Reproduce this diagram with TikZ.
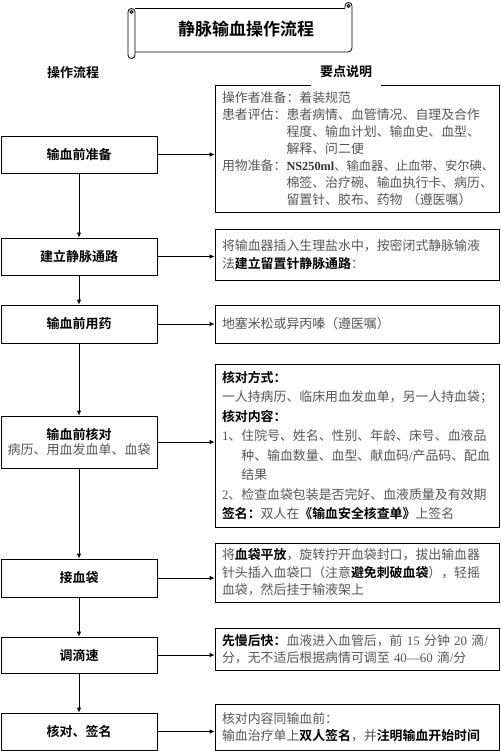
\documentclass[tikz,border=0pt]{standalone}
\usepackage{fontspec}
\setmainfont{Noto Sans CJK SC}[BoldFont={Noto Sans CJK SC Bold}]
\newfontfamily\lat{Liberation Serif}
\usepackage{xcolor}
\usetikzlibrary{positioning, arrows.meta, calc}
\definecolor{txtgray}{HTML}{555555}
\tikzset{
  stepbox/.style ={draw, line width=0.8pt, minimum width=156pt, align=center,
                   inner sep=0pt, font=\fontsize{13}{16}\selectfont\bfseries},
  notebox/.style ={draw, line width=0.8pt, minimum width=284pt, text width=270pt,
                   inner xsep=7pt, inner ysep=0pt, align=left, text=txtgray,
                   font=\fontsize{12.9}{17}\selectfont},
  head/.style    ={font=\fontsize{13}{16}\selectfont\bfseries},
  scroll/.style  ={line width=0.8pt},
  flow/.style    ={-{Latex[length=5pt,width=4.5pt]}, line width=0.8pt},
}
\newcommand{\bk}[1]{\textcolor{black}{\bfseries #1}}
\newcommand{\ind}{\hspace*{5em}}
\newcommand{\nm}[1]{{\lat #1}}

\begin{document}
\begin{tikzpicture}[x=1pt, y=1pt]
  \useasboundingbox (0,0) rectangle (500,-751);
  % title scroll
  \draw[scroll] (135,-8) -- (345,-8);
  \draw[scroll] (135,-52) -- (348,-52) arc[start angle=-90, end angle=0, radius=4]
        -- (352,-6) arc[start angle=0, end angle=180, radius=3.5] -- (345,-8);
  \draw[scroll] (348.5,-6) circle (1.5);
  \draw[scroll] (128,-12) -- (128,-55) arc[start angle=180, end angle=360, radius=3.5]
        -- (135,-12) arc[start angle=0, end angle=180, radius=3.5];
  \draw[scroll] (131.5,-12) circle (1.5);
  \node[font=\fontsize{17}{20}\selectfont\bfseries] (Title) at (246,-29) {静脉输血操作流程};

  % left column
  \node[stepbox, minimum height=37pt] (Prep)  at (79,-154.5) {输血前准备};
  \node[stepbox, minimum height=37pt] (Vein)  at (79,-256.5) {建立静脉通路};
  \node[stepbox, minimum height=38pt] (Drug)  at (79,-324)   {输血前用药};
  \node[stepbox, minimum height=52pt] (Check) at (79,-442)
        {输血前核对\\[-1pt]{\mdseries\color{txtgray}病历、用血发血单、血袋}};
  \node[stepbox, minimum height=38pt] (Bag)   at (79,-578)   {接血袋};
  \node[stepbox, minimum height=36pt] (Rate)  at (79,-655)   {调滴速};
  \node[stepbox, minimum height=37pt] (Sign)  at (79,-731.5) {核对、签名};

  % right column
  \node[notebox, minimum height=127pt] (PrepN) at (357,-148.5)
        {操作者准备：着装规范\\
         患者评估：患者病情、血管情况、自理及合作\\
         \ind 程度、输血计划、输血史、血型、\\
         \ind 解释、问二便\\
         用物准备：{\fontsize{12.3}{17}\selectfont{\lat\bfseries\color{black!80}NS250ml}、输血器、止血带、安尔碘、}\\
         \ind 棉签、治疗碗、输血执行卡、病历、\\
         \ind 留置针、胶布、药物 （遵医嘱）};
  \node[notebox, minimum height=51pt, font=\fontsize{12.9}{18}\selectfont] (VeinN) at (357,-254.5)
        {将输血器插入生理盐水中，按密闭式静脉输液\\
         法\bk{建立留置针静脉通路}：};
  \node[notebox, minimum height=38pt] (DrugN) at (357,-324)
        {地塞米松或异丙嗪（遵医嘱）};
  \node[notebox, minimum height=163pt, font=\fontsize{12.9}{19.5}\selectfont] (CheckN) at (357,-445.5)
        {\bk{核对方式：}\\
         一人持病历、临床用血发血单，另一人持血袋；\\
         \bk{核对内容：}\\
         \nm{1}、住院号、姓名、性别、年龄、床号、血液品\\
         \hspace*{1.5em}种、输血数量、血型、献血码\nm{/}产品码、配血\\
         \hspace*{1.5em}结果\\
         \nm{2}、检查血袋包装是否完好、血液质量及有效期\\
         \bk{签名：}双人在\bk{《输血安全核查单》}上签名};
  \node[notebox, minimum height=59pt, font=\fontsize{12.9}{17.5}\selectfont] (BagN) at (357,-572.5)
        {将\bk{血袋平放}，旋转拧开血袋封口，拔出输血器\\
         针头插入血袋口（注意\bk{避免刺破血袋}），轻摇\\
         血袋，然后挂于输液架上};
  \node[notebox, minimum height=42pt, font=\fontsize{12.9}{16.5}\selectfont] (RateN) at (357,-649)
        {\bk{先慢后快：}血液进入血管后，前~\nm{15}~分钟~\nm{20}~滴\nm{/}\\
         分，无不适后根据病情可调至~\nm{40—60}~滴\nm{/}分};
  \node[notebox, minimum height=46pt] (SignN) at (357,-727)
        {核对内容同输血前：\\
         输血治疗单上\bk{双人签名}，并\bk{注明输血开始时间}};

  % column headings
  \node[head] (LeftHead) at (73,-73) {操作流程};
  \node[head, fill=white, minimum width=70pt, minimum height=32pt] (RightHead) at (346,-72) {要点说明};

  % connectors
  \draw[flow] (Prep.east)  -- (Prep.east -| PrepN.west);
  \draw[flow] (Vein.east)  -- (Vein.east -| VeinN.west);
  \draw[flow] (Drug.east)  -- (Drug.east -| DrugN.west);
  \draw[flow] (Check.east) -- (Check.east -| CheckN.west);
  \draw[flow] (Bag.east)   -- (Bag.east -| BagN.west);
  \draw[flow] (Rate.east)  -- (Rate.east -| RateN.west);
  \draw[flow] (Sign.east)  -- (Sign.east -| SignN.west);
  \draw[flow] (Prep)  -- (Vein);
  \draw[flow] (Vein)  -- (Drug);
  \draw[flow] (Drug)  -- (Check);
  \draw[flow] (Check) -- (Bag);
  \draw[flow] (Bag)   -- (Rate);
  \draw[flow] (Rate)  -- (Sign);
\end{tikzpicture}
\end{document}
